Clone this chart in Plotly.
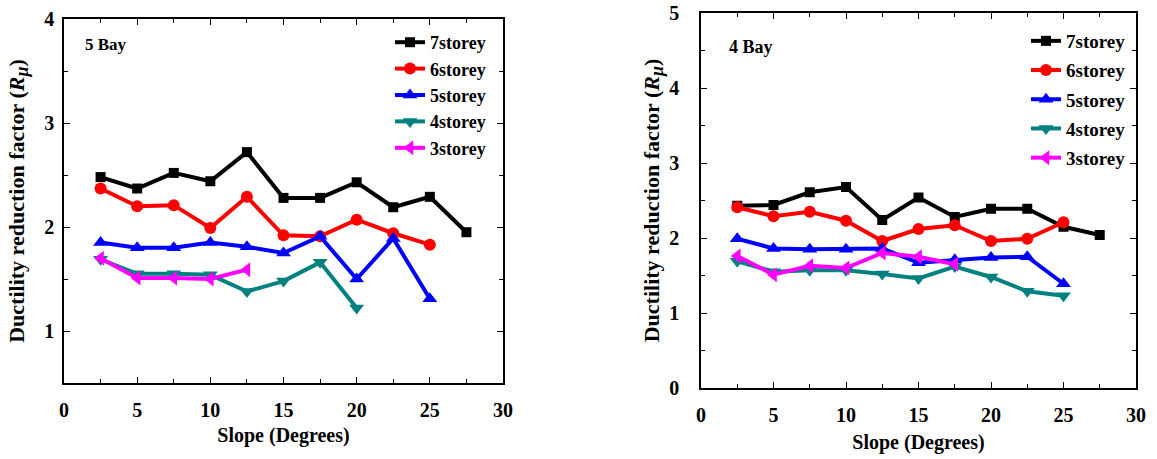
import plotly.graph_objects as go

# Slope angles (degrees)
slope_7 = [2.5, 5, 7.5, 10, 12.5, 15, 17.5, 20, 22.5, 25, 27.5]
slope_6 = [2.5, 5, 7.5, 10, 12.5, 15, 17.5, 20, 22.5, 25]
slope_5 = [2.5, 5, 7.5, 10, 12.5, 15, 17.5, 20, 22.5, 25]

# 5 Bay frames: ductility reduction factor
bay5_7storey = [2.48, 2.37, 2.52, 2.44, 2.72, 2.28, 2.28, 2.43, 2.19, 2.29, 1.95]
bay5_6storey = [2.37, 2.20, 2.21, 1.99, 2.29, 1.92, 1.91, 2.07, 1.94, 1.83]
bay5_5storey = [1.85, 1.80, 1.80, 1.85, 1.81, 1.75, 1.91, 1.50, 1.89, 1.31]
bay5_4storey = [1.69, 1.55, 1.55, 1.54, 1.38, 1.48, 1.66, 1.22]
bay5_3storey = [1.70, 1.51, 1.51, 1.50, 1.59]
bay5_slope_4 = [2.5, 5, 7.5, 10, 12.5, 15, 17.5, 20]
bay5_slope_3 = [2.5, 5, 7.5, 10, 12.5]

# 4 Bay frames: ductility reduction factor
bay4_7storey = [2.43, 2.44, 2.61, 2.68, 2.24, 2.54, 2.28, 2.39, 2.39, 2.15, 2.04]
bay4_6storey = [2.41, 2.29, 2.35, 2.23, 1.96, 2.12, 2.17, 1.96, 1.99, 2.21]
bay4_5storey = [1.99, 1.86, 1.85, 1.85, 1.86, 1.67, 1.71, 1.74, 1.75, 1.39]
bay4_4storey = [1.69, 1.55, 1.57, 1.57, 1.52, 1.46, 1.62, 1.48, 1.29, 1.23]
bay4_3storey = [1.76, 1.51, 1.63, 1.60, 1.80, 1.75, 1.65]
bay4_slope_4 = [2.5, 5, 7.5, 10, 12.5, 15, 17.5, 20, 22.5, 25]
bay4_slope_3 = [2.5, 5, 7.5, 10, 12.5, 15, 17.5]

names = ["7storey", "6storey", "5storey", "4storey", "3storey"]
colors = ["#000000", "#ff0000", "#0000ff", "#008080", "#ff00ff"]
symbols = ["square", "circle", "triangle-up", "triangle-down", "triangle-left"]
msizes = [10, 12, 13, 13, 13]

FONT = "Liberation Serif"

fig = go.Figure()

left_sets = [
    (slope_7, bay5_7storey), (slope_6, bay5_6storey), (slope_5, bay5_5storey),
    (bay5_slope_4, bay5_4storey), (bay5_slope_3, bay5_3storey),
]
right_sets = [
    (slope_7, bay4_7storey), (slope_6, bay4_6storey), (slope_5, bay4_5storey),
    (bay4_slope_4, bay4_4storey), (bay4_slope_3, bay4_3storey),
]

for i, (xs, ys) in enumerate(left_sets):
    fig.add_trace(go.Scatter(
        x=xs, y=ys, mode="lines+markers", name=names[i],
        line=dict(color=colors[i], width=4),
        marker=dict(symbol=symbols[i], size=msizes[i], color=colors[i]),
        xaxis="x", yaxis="y", legend="legend",
    ))

for i, (xs, ys) in enumerate(right_sets):
    fig.add_trace(go.Scatter(
        x=xs, y=ys, mode="lines+markers", name=names[i],
        line=dict(color=colors[i], width=4),
        marker=dict(symbol=symbols[i], size=msizes[i], color=colors[i]),
        xaxis="x2", yaxis="y2", legend="legend2", legendgroup="R" + names[i],
    ))

W, H = 1157, 459


def px_x(p):
    return p / W


def px_y(p):
    return 1 - p / H


axis_common = dict(
    showline=True, linecolor="black", linewidth=1.5, mirror="ticks",
    ticks="inside", ticklen=6, tickwidth=1.2, tickcolor="black",
    showgrid=False, zeroline=False, automargin=False,
    tickfont=dict(family=FONT, size=20, color="black", weight="bold"),
)
xtitle_font = dict(family=FONT, size=20, color="black", weight="bold")
ytitle_font = dict(family=FONT, size=22, color="black", weight="bold")

ytitle = ("Ductility reduction factor (<i>R</i><sub>"
          "<span style='font-size:18px'><i>μ</i></span></sub>)")

fig.update_layout(
    width=W, height=H,
    margin=dict(l=0, r=0, t=0, b=0),
    paper_bgcolor="white", plot_bgcolor="white",
    font=dict(family=FONT, color="black"),
    xaxis=dict(
        domain=[px_x(64), px_x(503)], range=[0, 30], dtick=5, tick0=0,
        minor=dict(dtick=2.5, ticks="inside", ticklen=4, tickcolor="black"),
        title=dict(text="Slope (Degrees)", standoff=8, font=xtitle_font),
        anchor="y", ticklabelstandoff=8, **axis_common,
    ),
    yaxis=dict(
        domain=[px_y(383), px_y(19)], range=[0.5, 4], dtick=1, tick0=0,
        minor=dict(dtick=0.5, ticks="inside", ticklen=4, tickcolor="black"),
        title=dict(text=ytitle, standoff=14, font=ytitle_font),
        anchor="x", ticklabelstandoff=4, **axis_common,
    ),
    xaxis2=dict(
        domain=[px_x(701), px_x(1136)], range=[0, 30], dtick=5, tick0=0,
        minor=dict(dtick=2.5, ticks="inside", ticklen=4, tickcolor="black"),
        title=dict(text="Slope (Degrees)", standoff=10, font=xtitle_font),
        anchor="y2", ticklabelstandoff=8, **axis_common,
    ),
    yaxis2=dict(
        domain=[px_y(388), px_y(13)], range=[0, 5], dtick=1, tick0=0,
        minor=dict(dtick=0.5, ticks="inside", ticklen=4, tickcolor="black"),
        title=dict(text=ytitle, standoff=4, font=ytitle_font),
        anchor="x2", ticklabelstandoff=16, **axis_common,
    ),
    legend=dict(
        x=px_x(390), y=px_y(24), xanchor="left", yanchor="top",
        bgcolor="rgba(0,0,0,0)",
        font=dict(family=FONT, size=18, color="black", weight="bold"),
    ),
    legend2=dict(
        x=px_x(1026), y=px_y(22), xanchor="left", yanchor="top",
        bgcolor="rgba(0,0,0,0)", tracegroupgap=1.5,
        font=dict(family=FONT, size=19, color="black", weight="bold"),
    ),
    annotations=[
        dict(text="5 Bay", x=px_x(83), y=px_y(45), xref="paper", yref="paper",
             xanchor="left", yanchor="middle", showarrow=False,
             font=dict(family=FONT, size=17, color="black", weight="bold")),
        dict(text="4 Bay", x=px_x(727), y=px_y(47), xref="paper", yref="paper",
             xanchor="left", yanchor="middle", showarrow=False,
             font=dict(family=FONT, size=18, color="black", weight="bold")),
    ],
)

fig.write_html("out.html")
